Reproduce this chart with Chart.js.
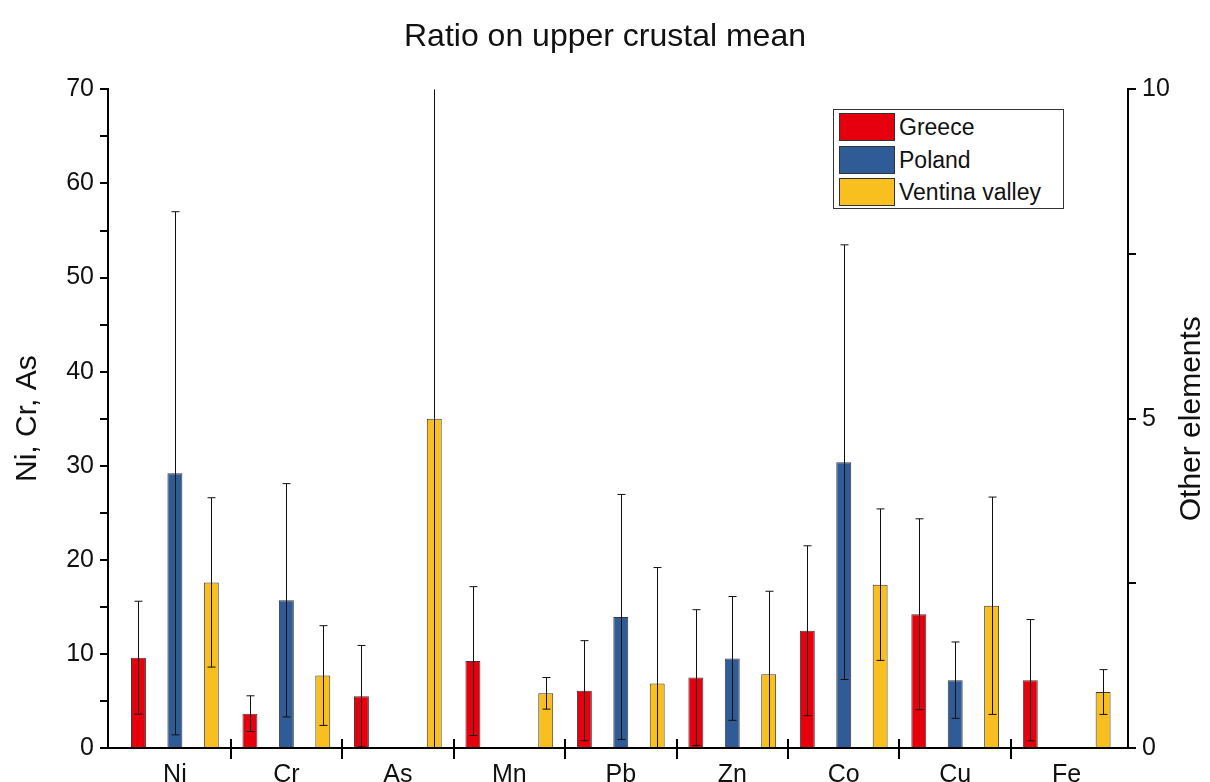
<!DOCTYPE html>
<html>
<head>
<meta charset="utf-8">
<script src="https://cdn.jsdelivr.net/npm/chart.js@4"></script>
<style>
  body { margin: 0; background: #fff; }
  #wrap { position: relative; width: 1210px; height: 782px; }
  #legend {
    position: absolute; left: 833px; top: 109px; width: 229px; height: 98px;
    border: 1.5px solid #333; background: #fff;
    font-family: "Liberation Sans", Arial, sans-serif; font-size: 23px; color: #111;
  }
  #legend .row { position: absolute; left: 5px; height: 28px; line-height: 28px; white-space: nowrap; }
  #legend .sw { display: inline-block; width: 54px; height: 26px; border: 1px solid #333; vertical-align: top; margin-right: 4px; }
</style>
</head>
<body>
<div id="wrap">
  <canvas id="chart"></canvas>
  <div id="legend"></div>
</div>
<script>
// Ni, Cr, As are read on the left axis; the others on the right axis
const elements = ['Ni', 'Cr', 'As', 'Mn', 'Pb', 'Zn', 'Co', 'Cu', 'Fe'];
const leftElements = ['Ni', 'Cr', 'As'];

const greece   = [9.6, 3.65, 5.5, 1.32, 0.87, 1.07, 1.78, 2.03, 1.03];
const greeceSd = [6.0, 1.9, 5.4, 1.13, 0.76, 1.03, 1.29, 1.45, 0.92];
const poland   = [29.2, 15.7, null, null, 1.99, 1.36, 4.34, 1.03, null];
const polandSd = [27.8, 12.4, null, null, 1.86, 0.94, 3.3, 0.58, null];
const ventina   = [17.6, 7.7, 35.0, 0.83, 0.98, 1.12, 2.48, 2.16, 0.85];
const ventinaSd = [9.0, 5.3, 35.0, 0.24, 1.76, 1.26, 1.15, 1.65, 0.34];

const leftTicks = [0, 10, 20, 30, 40, 50, 60, 70];
const rightTicks = [0, 5, 10];

const series = [
    { label: 'Greece', values: greece, errors: greeceSd, color: '#e6000d' },
    { label: 'Poland', values: poland, errors: polandSd, color: '#2f5c96' },
    { label: 'Ventina valley', values: ventina, errors: ventinaSd, color: '#f9bf1e' }
];

const FONT = '"Liberation Sans", Arial, sans-serif';

const datasets = [];
['y', 'y2'].forEach(axis => {
    series.forEach(s => {
        const pts = [];
        s.values.forEach((v, i) => {
            if (v !== null && leftElements.includes(elements[i]) === (axis === 'y')) {
                pts.push({ x: i, y: v, err: s.errors[i] });
            }
        });
        datasets.push({
            label: s.label,
            stack: s.label,
            yAxisID: axis,
            data: pts,
            backgroundColor: s.color,
            borderColor: '#3a3a3a',
            borderWidth: 1,
            categoryPercentage: 0.98,
            barPercentage: 0.41
        });
    });
});

const errorBars = {
    id: 'errorBars',
    afterDatasetsDraw(chart) {
        const ctx = chart.ctx;
        const area = chart.chartArea;
        ctx.save();
        ctx.beginPath();
        ctx.rect(area.left, area.top - 1, area.right - area.left, area.bottom - area.top + 1);
        ctx.clip();
        ctx.strokeStyle = '#111';
        ctx.lineWidth = 1;
        chart.data.datasets.forEach((ds, di) => {
            const meta = chart.getDatasetMeta(di);
            const scale = chart.scales[ds.yAxisID];
            meta.data.forEach((bar, i) => {
                const p = ds.data[i];
                const x = Math.round(bar.x) + 0.5;
                const hi = p.y + p.err, lo = p.y - p.err;
                const yHi = scale.getPixelForValue(Math.min(hi, scale.max));
                const yLo = scale.getPixelForValue(Math.max(lo, scale.min));
                ctx.beginPath();
                ctx.moveTo(x, yHi);
                ctx.lineTo(x, yLo);
                if (hi < scale.max) { ctx.moveTo(x - 4, yHi); ctx.lineTo(x + 4, yHi); }
                if (lo > scale.min) { ctx.moveTo(x - 4, yLo); ctx.lineTo(x + 4, yLo); }
                ctx.stroke();
            });
        });
        ctx.restore();
    }
};

const axisExtras = {
    id: 'axisExtras',
    afterDraw(chart) {
        const ctx = chart.ctx;
        const xs = chart.scales.x;
        const area = chart.chartArea;
        ctx.save();
        // group separators across the x axis
        ctx.strokeStyle = '#000';
        ctx.lineWidth = 2;
        for (let i = 0; i < elements.length - 1; i++) {
            const x = Math.round(xs.getPixelForValue(i + 0.5));
            ctx.beginPath();
            ctx.moveTo(x, area.bottom - 9);
            ctx.lineTo(x, area.bottom + 11);
            ctx.stroke();
        }
        // right axis title, reading bottom to top
        ctx.fillStyle = '#111';
        ctx.font = '30px ' + FONT;
        ctx.textAlign = 'center';
        ctx.textBaseline = 'middle';
        ctx.translate(1192, (area.top + area.bottom) / 2);
        ctx.rotate(-Math.PI / 2);
        ctx.fillText('Other elements', 0, 0);
        ctx.restore();
    }
};

const ctx = document.getElementById('chart').getContext('2d');
new Chart(ctx, {
    type: 'bar',
    data: { datasets: datasets },
    options: {
        responsive: true,
        maintainAspectRatio: false,
        animation: false,
        layout: { padding: 0 },
        plugins: {
            legend: { display: false },
            tooltip: { enabled: false },
            title: {
                display: true,
                text: 'Ratio on upper crustal mean',
                color: '#111',
                font: { family: FONT, size: 32, weight: 'normal' },
                padding: { top: 18, bottom: 33 }
            }
        },
        scales: {
            x: {
                type: 'linear',
                offset: false,
                min: -0.6, max: 8.55,
                grid: { display: false, drawTicks: false, offset: false },
                border: { display: true, color: '#000', width: 2 },
                ticks: {
                    stepSize: 1, includeBounds: false, autoSkip: false,
                    color: '#111', padding: 12, font: { family: FONT, size: 25 },
                    callback: v => elements[v] || ''
                },
                afterFit(s) { s.height = 34; }
            },
            y: {
                position: 'left',
                stacked: false,
                min: 0, max: 70,
                grid: { drawOnChartArea: false, drawTicks: true, tickLength: 8, color: '#000', lineWidth: 2 },
                border: { display: true, color: '#000', width: 2 },
                ticks: {
                    stepSize: 5, padding: 6, color: '#111',
                    font: { family: FONT, size: 25 },
                    callback: v => leftTicks.includes(v) ? String(v) : ''
                },
                title: {
                    display: true, text: 'Ni, Cr, As', color: '#111',
                    font: { family: FONT, size: 30 }, padding: { top: 10, bottom: 0 }
                },
                afterFit(s) { s.width = 108; }
            },
            y2: {
                position: 'right',
                stacked: false,
                min: 0, max: 10,
                grid: { drawOnChartArea: false, drawTicks: true, tickLength: 8, color: '#000', lineWidth: 2 },
                border: { display: true, color: '#000', width: 2 },
                ticks: {
                    stepSize: 2.5, padding: 6, color: '#111',
                    font: { family: FONT, size: 25 },
                    callback: v => rightTicks.includes(v) ? String(v) : ''
                },
                afterFit(s) { s.width = 82; }
            }
        }
    },
    plugins: [errorBars, axisExtras]
});

// legend box inside the plot, as in the original figure
const legend = document.getElementById('legend');
series.forEach((s, i) => {
    const row = document.createElement('div');
    row.className = 'row';
    row.style.top = (3 + i * 32.5) + 'px';
    row.innerHTML = '<span class="sw" style="background:' + s.color + '"></span>' + s.label;
    legend.appendChild(row);
});
</script>
</body>
</html>
